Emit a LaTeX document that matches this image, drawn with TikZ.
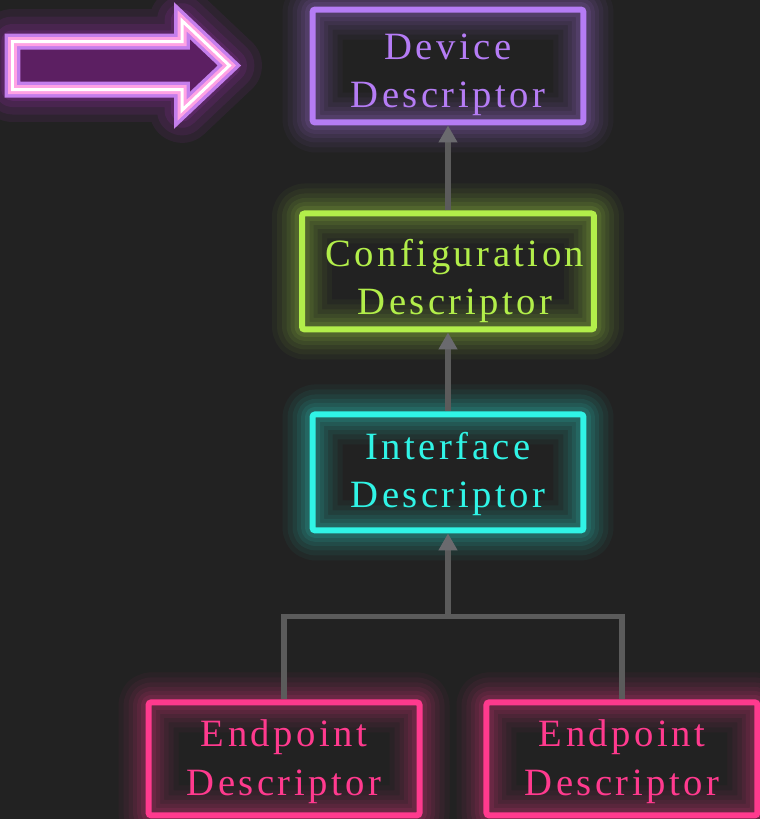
\documentclass[tikz,border=0pt]{standalone}
\usepackage{fontspec}
\newfontfamily\descfont[LetterSpace=9]{Liberation Serif}
\usetikzlibrary{positioning,arrows.meta}
\definecolor{bgdark}{HTML}{222222}
\definecolor{devpurple}{HTML}{B57CF5}
\definecolor{cfglime}{HTML}{B2EE4A}
\definecolor{ifcyan}{HTML}{30F4E6}
\definecolor{eppink}{HTML}{FF3A8E}
\definecolor{linkgray}{HTML}{5B5B5B}
\definecolor{tipgray}{HTML}{6A6A6E}
\definecolor{arrowedge}{HTML}{C47EEC}
\definecolor{arrowglow}{HTML}{9A30B0}
\definecolor{arrowpink}{HTML}{FFA2E4}
\definecolor{arrowfill}{HTML}{5C1F62}

\begin{document}
\begin{tikzpicture}[
        x=0.02cm, y=0.02cm,
        glow/.style={
            preaction={draw=#1, line width=1.2cm, opacity=0.04, line join=round},
            preaction={draw=#1, line width=1.0cm, opacity=0.05, line join=round},
            preaction={draw=#1, line width=0.8cm, opacity=0.06, line join=round},
            preaction={draw=#1, line width=0.62cm, opacity=0.07, line join=round},
            preaction={draw=#1, line width=0.46cm, opacity=0.08, line join=round},
            preaction={draw=#1, line width=0.3cm, opacity=0.1, line join=round}},
        haze/.style={
            preaction={draw=#1, line width=1.3cm, opacity=0.1, line join=round},
            preaction={draw=#1, line width=1.0cm, opacity=0.12, line join=round},
            preaction={draw=#1, line width=0.7cm, opacity=0.15, line join=round},
            preaction={draw=#1, line width=0.45cm, opacity=0.2, line join=round}},
        desc/.style={draw=#1, text=#1, glow=#1, line width=0.12cm, rounded corners=1.5pt,
            minimum width=5.42cm, minimum height=2.26cm, inner sep=0pt, align=center,
            font=\descfont\fontsize{22}{27.5}\selectfont},
        link/.style={draw=linkgray, line width=0.11cm},
        uplink/.style={link, -{Triangle[width=0.36cm, length=0.34cm, color=tipgray]}}
    ]
        % Canvas
        \fill[bgdark] (0,0) rectangle (760,-819);
        \useasboundingbox (0,0) rectangle (760,-819);

        % Pointer arrow
        \draw[haze=arrowglow, fill=arrowfill, draw=arrowedge, line width=0.32cm,
            postaction={draw=arrowpink, line width=0.18cm},
            postaction={draw=white, line width=0.06cm}]
            (12.5,-41.5) -- (182,-41.5) -- (182,-20.7) -- (229.4,-65.5)
            -- (182,-110.3) -- (182,-89.5) -- (12.5,-89.5) -- cycle;

        % Descriptor chain
        \node[desc=devpurple, text height=1.82cm] (dev) at (448,-66) {Device\\Descriptor};
        \node[desc=cfglime, text height=1.9cm, minimum width=5.84cm, minimum height=2.32cm, below=1.7cm of dev] (cfg)
            {\hspace*{0.28cm}Configuration\\\hspace*{0.28cm}Descriptor};
        \node[desc=ifcyan, text height=1.58cm, minimum height=2.32cm, below=1.58cm of cfg] (iface) {Interface\\Descriptor};
        \node[desc=eppink, text height=1.62cm, below=3.32cm of iface, xshift=-3.28cm] (ep1) {Endpoint\\Descriptor};
        \node[desc=eppink, text height=1.62cm, below=3.32cm of iface, xshift=3.48cm] (ep2) {Endpoint\\Descriptor};
        \coordinate[below=1.66cm of iface] (fork);

        % Links
        \draw[uplink] (cfg.north) -- (dev.south);
        \draw[uplink] (iface.north) -- (cfg.south);
        \draw[link] (ep1.north) |- (fork) -| (ep2.north);
        \draw[uplink] (fork) -- (iface.south);
    \end{tikzpicture}
\end{document}
